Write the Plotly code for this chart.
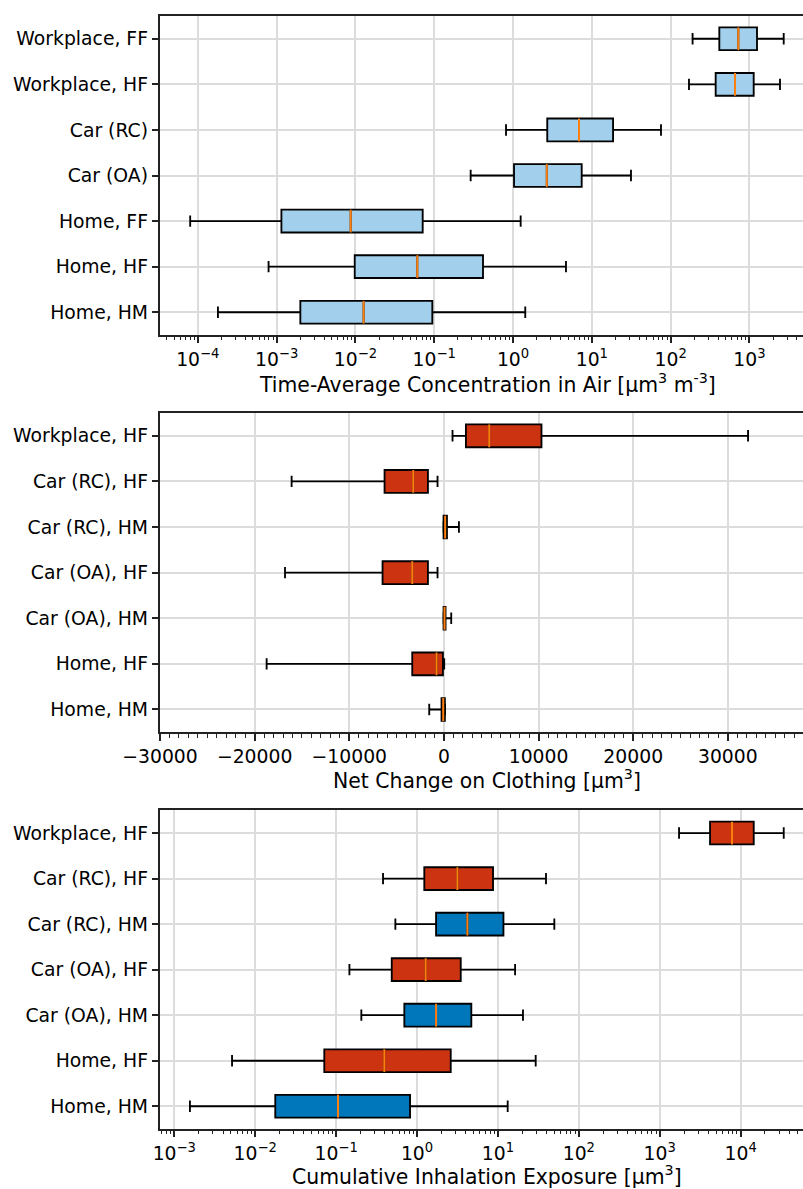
import math
import plotly.graph_objects as go

# ---------------- data ----------------
# Panel 1: time-average concentration in air (categories bottom -> top)
cats1 = ["Home, HM", "Home, HF", "Home, FF", "Car (OA)", "Car (RC)", "Workplace, HF", "Workplace, FF"]
lo1 = [1.8e-4, 7.9e-4, 8.0e-5, 0.29, 0.815, 171, 190]
q1_1 = [2.0e-3, 9.8e-3, 1.15e-3, 1.03, 2.72, 373, 415]
med1 = [0.0127, 0.061, 0.0087, 2.68, 6.88, 656, 723]
q3_1 = [0.0946, 0.416, 0.0714, 7.44, 18.6, 1133, 1248]
hi1 = [1.43, 4.7, 1.25, 31.4, 75.5, 2444, 2723]
col1 = ["light"] * 7

# Panel 2: net change on clothing
cats2 = ["Home, HM", "Home, HF", "Car (OA), HM", "Car (OA), HF", "Car (RC), HM", "Car (RC), HF", "Workplace, HF"]
lo2 = [-1552, -18733, -60, -16790, -60, -16093, 908]
q1_2 = [-253, -3347, -40, -6484, -40, -6273, 2323]
med2 = [-74, -781, 63, -3347, 130, -3242, 4784]
q3_2 = [100, -106, 170, -1690, 320, -1690, 10307]
hi2 = [120, 30, 771, -676, 1584, -676, 32134]
col2 = ["red"] * 7

# Panel 3: cumulative inhalation exposure
cats3 = ["Home, HM", "Home, HF", "Car (OA), HM", "Car (OA), HF", "Car (RC), HM", "Car (RC), HF", "Workplace, HF"]
lo3 = [0.00156, 0.00517, 0.205, 0.146, 0.54, 0.38, 1733]
q1_3 = [0.0177, 0.0714, 0.697, 0.487, 1.72, 1.23, 4188]
med3 = [0.1055, 0.394, 1.72, 1.28, 4.19, 3.15, 7830]
q3_3 = [0.82, 2.61, 4.69, 3.47, 11.7, 8.70, 14520]
hi3 = [13.2, 29.3, 20.4, 16.3, 49.8, 39.3, 34100]
col3 = ["blue", "red", "blue", "red", "blue", "red", "red"]

xtitles = ["Time-Average Concentration in Air [µm<sup>3</sup> m<sup>-3</sup>]",
           "Net Change on Clothing [µm<sup>3</sup>]",
           "Cumulative Inhalation Exposure [µm<sup>3</sup>]"]

palette = {"light": "#A1CFEC", "red": "#CC3311", "blue": "#0077BB"}

# ---------------- layout geometry ----------------
W, H = 803, 1189
L = 160
FONT = "DejaVu Sans"
FS = 18.8        # tick labels
FS_T = 20.4      # axis titles
LW = 1.85
panels_px = [(16, 335), (413, 732.3), (810.3, 1129)]   # top, bottom of each plot area

fig = go.Figure()


def add_panel(idx, cats, lo, q1, med, q3, hi, cols):
    xa = "x" if idx == 1 else f"x{idx}"
    ya = "y" if idx == 1 else f"y{idx}"
    pos = list(range(1, len(cats) + 1))
    for ckey in dict.fromkeys(cols):
        sel = [i for i, c in enumerate(cols) if c == ckey]
        fig.add_trace(go.Box(
            orientation="h",
            y=[pos[i] for i in sel],
            q1=[q1[i] for i in sel], median=[med[i] for i in sel], q3=[q3[i] for i in sel],
            lowerfence=[lo[i] for i in sel], upperfence=[hi[i] for i in sel],
            width=0.5, whiskerwidth=0.5, boxpoints=False,
            fillcolor=palette[ckey], line=dict(color="black", width=LW),
            xaxis=xa, yaxis=ya, showlegend=False, hoverinfo="skip",
        ))
    mx, my = [], []
    for p, m in zip(pos, med):
        mx += [m, m, None]
        my += [p - 0.25, p + 0.25, None]
    fig.add_trace(go.Scatter(x=mx, y=my, mode="lines", line=dict(color="#FF7F0E", width=2),
                             xaxis=xa, yaxis=ya, showlegend=False, hoverinfo="skip"))


add_panel(1, cats1, lo1, q1_1, med1, q3_1, hi1, col1)
add_panel(2, cats2, lo2, q1_2, med2, q3_2, hi2, col2)
add_panel(3, cats3, lo3, q1_3, med3, q3_3, hi3, col3)


def log_ticks(lo_e, hi_e):
    vals = [10.0 ** e for e in range(lo_e, hi_e + 1)]
    txt = [f"10<sup>{'−' if e < 0 else ''}{abs(e)}</sup>" for e in range(lo_e, hi_e + 1)]
    minors = [k * 10.0 ** e for e in range(lo_e - 1, hi_e + 1) for k in range(2, 10)]
    return vals, txt, minors


common_x = dict(
    showline=True, linecolor="#222222", linewidth=1.5, mirror=True,
    ticks="outside", ticklen=6.5, tickwidth=1.5, tickcolor="#222222",
    showgrid=True, gridcolor="#DCDCDC", gridwidth=1.5, zeroline=False,
    tickfont=dict(family=FONT, size=FS, color="black"), domain=[0, 1],
)
common_y = dict(
    showline=True, linecolor="#222222", linewidth=1.5, mirror=False,
    ticks="outside", ticklen=6.5, tickwidth=1.5, tickcolor="#222222",
    showgrid=True, gridcolor="#DCDCDC", gridwidth=1.5, zeroline=False,
    tickfont=dict(family=FONT, size=FS, color="black"),
    range=[0.5, 7.5], tickmode="array", tickvals=list(range(1, 8)),
)

layout = dict(
    width=W, height=H, margin=dict(l=L, r=0, t=0, b=0),
    paper_bgcolor="white", plot_bgcolor="white",
    font=dict(family=FONT, size=FS, color="black"),
    showlegend=False,
)

# Panel 1 x axis (log)
v1, t1, m1 = log_ticks(-4, 3)
layout["xaxis"] = dict(common_x, type="log", range=[-4.48, 3.68], tickmode="array",
                       tickvals=v1, ticktext=t1, anchor="y",
                       minor=dict(tickmode="array", tickvals=m1, ticks="outside", ticklen=3.7,
                                  tickwidth=1.1, tickcolor="#222222", showgrid=False))
# Panel 2 x axis (linear)
v2 = [-30000, -20000, -10000, 0, 10000, 20000, 30000]
t2 = [("−" + str(abs(v))) if v < 0 else str(v) for v in v2]
layout["xaxis2"] = dict(common_x, type="linear", range=[-30000, 37940], tickmode="array",
                        tickvals=v2, ticktext=t2, anchor="y2",
                        minor=dict(tickmode="linear", tick0=0, dtick=1000, ticks="outside", ticklen=3.7,
                                   tickwidth=1.1, tickcolor="#222222", showgrid=False))
# Panel 3 x axis (log)
v3, t3, m3 = log_ticks(-3, 4)
layout["xaxis3"] = dict(common_x, type="log", range=[-3.177, 4.771], tickmode="array",
                        tickvals=v3, ticktext=t3, anchor="y3",
                        minor=dict(tickmode="array", tickvals=m3, ticks="outside", ticklen=3.7,
                                   tickwidth=1.1, tickcolor="#222222", showgrid=False))

for i, (cats, (top, bot)) in enumerate(zip([cats1, cats2, cats3], panels_px), start=1):
    key = "yaxis" if i == 1 else f"yaxis{i}"
    layout[key] = dict(common_y, ticktext=cats, anchor="x" if i == 1 else f"x{i}",
                       domain=[1 - bot / H, 1 - top / H])

fig.update_layout(**layout)

# x-axis titles as annotations (centred on the full, partly cropped, axes)
title_y = [384, 779, 1175]
centre_px = 487
for txt, ty in zip(xtitles, title_y):
    fig.add_annotation(text=txt, xref="paper", yref="paper",
                       x=(centre_px - L) / (W - L), y=1 - ty / H,
                       xanchor="center", yanchor="middle", showarrow=False,
                       font=dict(family=FONT, size=FS_T, color="black"))

fig.write_html("out.html", config={"displayModeBar": False},
               post_script="document.body.style.margin='0';document.body.style.overflow='hidden';")
